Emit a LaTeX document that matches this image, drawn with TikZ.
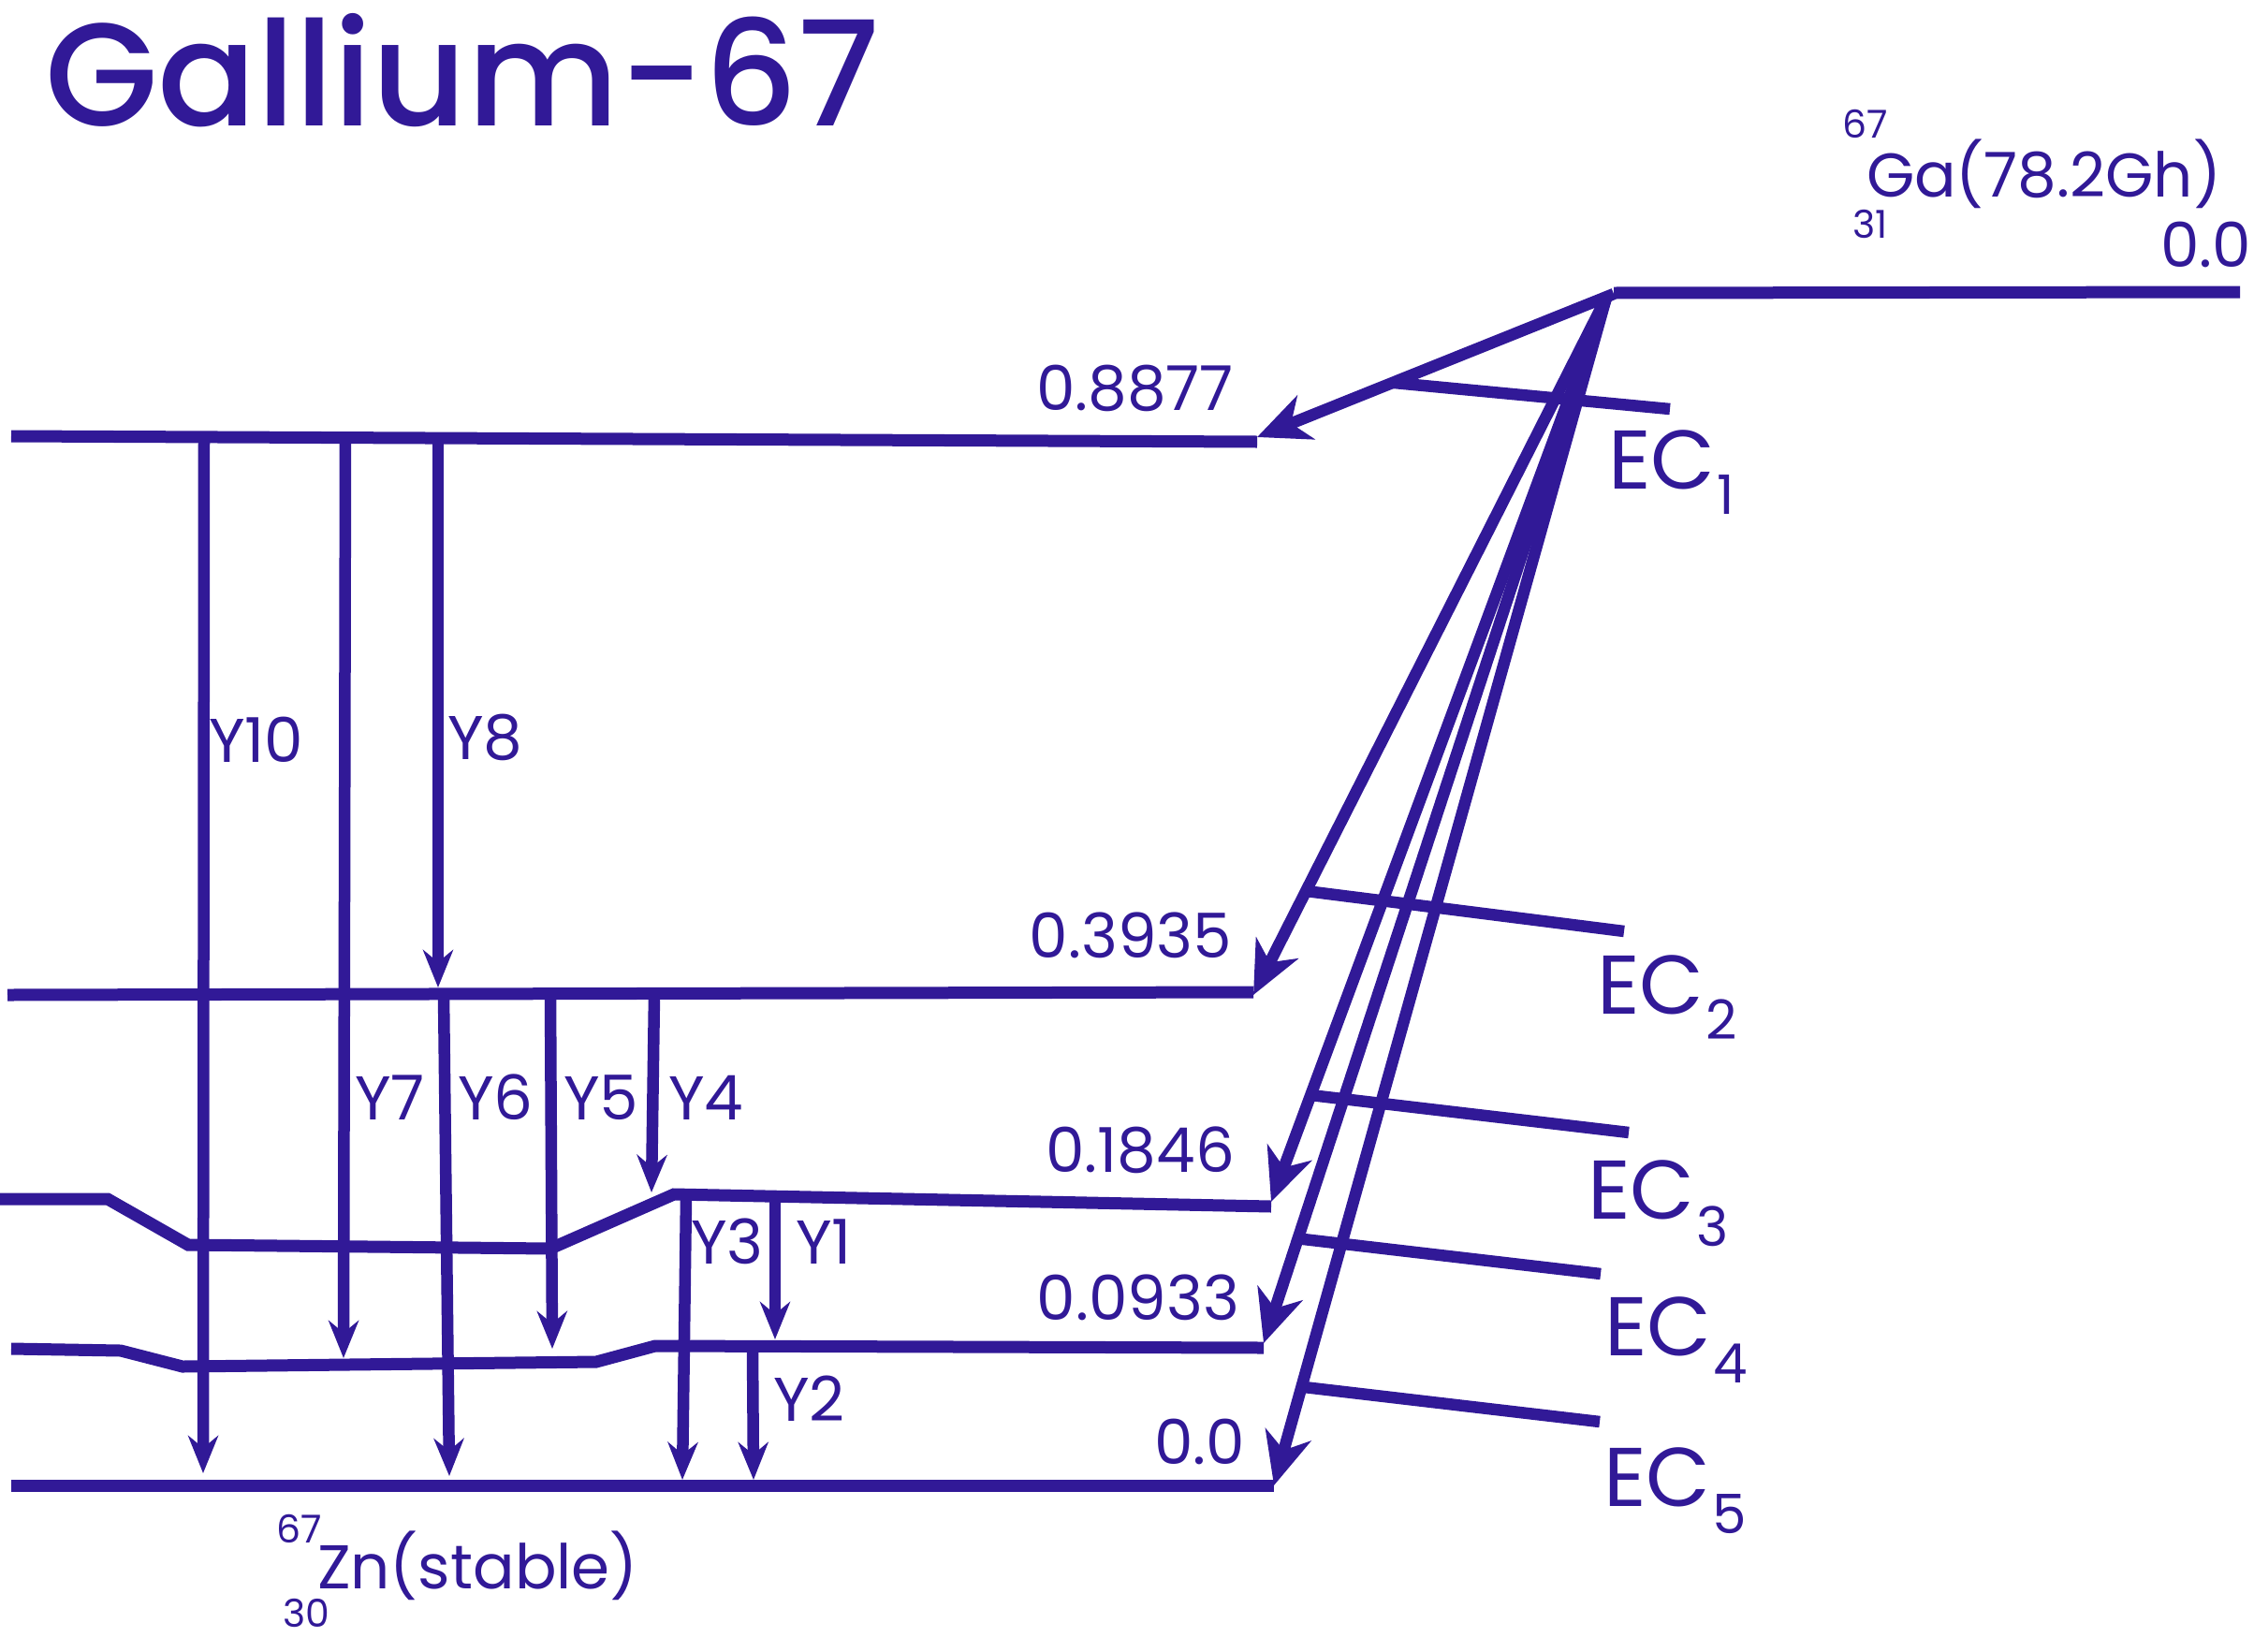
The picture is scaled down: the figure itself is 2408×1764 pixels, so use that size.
\documentclass[tikz,border=0pt]{standalone}
\usepackage{fontspec}
\setmainfont{Poppins}
\newfontfamily\titlefont{Poppins}[UprightFont=*-Medium]
\usetikzlibrary{arrows.meta,calc}
\definecolor{ink}{RGB}{49,25,151}
\begin{document}
\begin{tikzpicture}[x=1pt,y=-1pt,
  every node/.style={inner sep=0pt, outer sep=0pt, text=ink},
  level/.style={draw=ink, line width=13pt},
  branch/.style={draw=ink, line width=12.5pt},
  ecarrow/.style={draw=ink, line width=12.5pt, -{Stealth[length=56pt,width=50pt,inset=17pt]}},
  garrow/.style={draw=ink, line width=12.5pt, -{Stealth[length=40pt,width=32pt,inset=13pt]}},
  lvl/.style={font=\fontsize{66}{66}\selectfont, anchor=base east},
  glab/.style={font=\fontsize{66}{66}\selectfont, anchor=base west},
  eclab/.style={font=\fontsize{89}{89}\selectfont, anchor=base west},
  iso/.style={font=\fontsize{66}{66}\selectfont, anchor=base west},
  isosmall/.style={font=\fontsize{41}{41}\selectfont, anchor=base east}
]
\useasboundingbox (0,0) rectangle (2408,1764);

% title
\node[anchor=base west] (title) at (48,134) {\titlefont\fontsize{156}{156}\selectfont Gallium-67};

% parent level
\coordinate (G0) at (1724,313);
\coordinate (G1) at (2393,312);
\draw[level] (G0) -- (G1);
\node[iso] (ga) at (1994,210) {Ga(78.2Gh)};
\node[isosmall] (gaA) at (2017,147) {67};
\node[isosmall] (gaZ) at (2017,254) {31};
\node[lvl] (ga0) at (2405,285) {0.0};

% daughter levels
\coordinate (A0) at (12,466);   \coordinate (A1) at (1343,472);
\coordinate (B0) at (8,1063);   \coordinate (B1) at (1339,1060);
\coordinate (C0) at (0,1281);   \coordinate (C1) at (1358,1289);
\coordinate (D0) at (12,1441);  \coordinate (D1) at (1350,1440);
\coordinate (E0) at (12,1587);  \coordinate (E1) at (1361,1587);
\draw[level] (A0) -- (A1);
\draw[level] (B0) -- (B1);
\draw[level] (C0) -- (115,1281) -- (201,1330) -- (588,1334) -- (720,1276) -- (C1);
\draw[level] (D0) -- (129,1443) -- (195,1460) -- (637,1455) -- (700,1438) -- (D1);
\draw[level] (E0) -- (E1);

\node[lvl] (la) at (1318,438) {0.8877};
\node[lvl] (lb) at (1316,1023) {0.3935};
\node[lvl] (lc) at (1319,1252) {0.1846};
\node[lvl] (ld) at (1324,1410) {0.0933};
\node[lvl] (le) at (1330,1564) {0.0};

% electron capture arrows
\coordinate (S1) at (1724,314);
\coordinate (S) at (1716,318);
\coordinate (T1) at (1343,467);
\coordinate (T2) at (1339,1063);
\coordinate (T3) at (1358,1284);
\coordinate (T4) at (1350,1435);
\coordinate (T5) at (1361,1587);
\draw[ecarrow] (S1) -- (T1);
\draw[ecarrow] (S) -- (T2);
\draw[ecarrow] (S) -- (T3);
\draw[ecarrow] (S) -- (T4);
\draw[ecarrow] (S) -- (T5);

% EC branches
\coordinate (K1) at ($(S1)!0.62!(T1)$);
\coordinate (K2) at ($(S)!0.851!(T2)$);
\coordinate (K3) at ($(S)!0.882!(T3)$);
\coordinate (K4) at ($(S)!0.90!(T4)$);
\coordinate (K5) at ($(S)!0.917!(T5)$);
\coordinate (M1) at (1784,437);
\coordinate (M2) at (1735,995);
\coordinate (M3) at (1740,1210);
\coordinate (M4) at (1710,1361);
\coordinate (M5) at (1709,1519);
\draw[branch] (K1) -- (M1);
\draw[branch] (K2) -- (M2);
\draw[branch] (K3) -- (M3);
\draw[branch] (K4) -- (M4);
\draw[branch] (K5) -- (M5);

\node[eclab] (ec1) at (1718,522) {EC\kern2pt\raisebox{-27pt}{\fontsize{58}{58}\selectfont 1}};
\node[eclab] (ec2) at (1706,1083) {EC\kern2pt\raisebox{-27pt}{\fontsize{58}{58}\selectfont 2}};
\node[eclab] (ec3) at (1696,1302) {EC\kern2pt\raisebox{-29pt}{\fontsize{58}{58}\selectfont 3}};
\node[eclab] (ec4) at (1714,1448) {EC\kern2pt\raisebox{-29pt}{\fontsize{58}{58}\selectfont 4}};
\node[eclab] (ec5) at (1713,1609) {EC\kern2pt\raisebox{-29pt}{\fontsize{58}{58}\selectfont 5}};

% gamma transitions
\draw[garrow] (218,471) -- (217,1574);
\draw[garrow] (369,471) -- (367,1451);
\draw[garrow] (468,471) -- (468,1055);
\draw[garrow] (474,1062) -- (480,1577);
\draw[garrow] (588,1062) -- (590,1441);
\draw[garrow] (699,1062) -- (696,1274);
\draw[garrow] (733,1279) -- (729,1581);
\draw[garrow] (828,1282) -- (828,1431);
\draw[garrow] (804,1442) -- (805,1581);

\node[glab] (y10) at (223,814) {Y10};
\node[glab] (y8) at (478,811) {Y8};
\node[glab] (y7) at (379,1196) {Y7};
\node[glab] (y6) at (489,1196) {Y6};
\node[glab] (y5) at (602,1196) {Y5};
\node[glab] (y4) at (714,1196) {Y4};
\node[glab] (y3) at (738,1350) {Y3};
\node[glab] (y1) at (850,1350) {Y1};
\node[glab] (y2) at (826,1518) {Y2};

% daughter label
\node[iso] (zn) at (339,1697) {Zn(stable)};
\node[isosmall] (znA) at (344,1648) {67};
\node[isosmall] (znZ) at (352,1738) {30};
\end{tikzpicture}
\end{document}
